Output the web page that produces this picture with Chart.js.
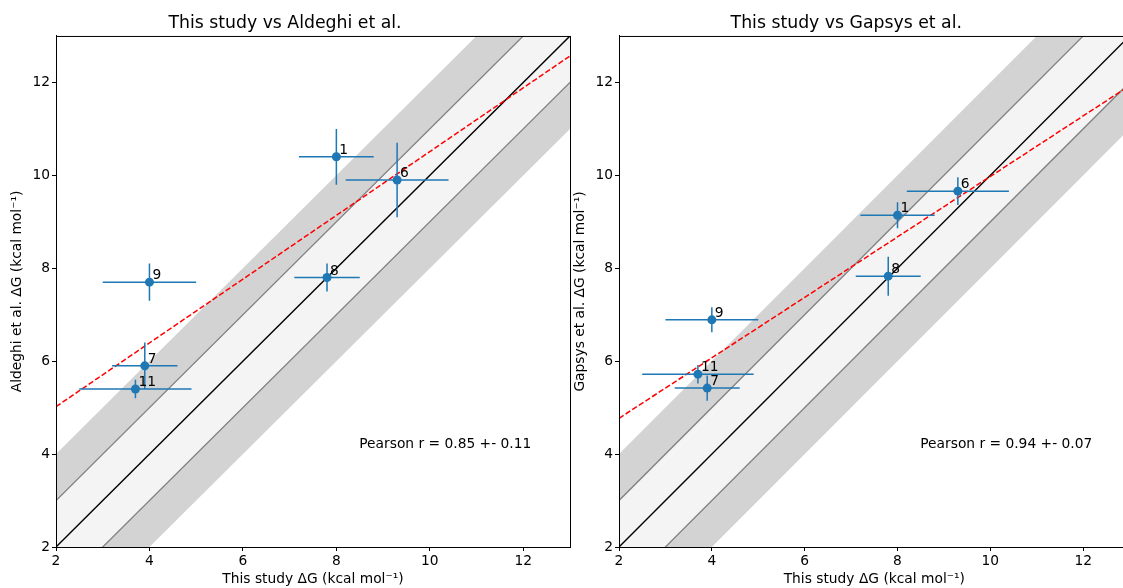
<!DOCTYPE html>
<html>
<head>
<meta charset="utf-8">
<script src="https://cdn.jsdelivr.net/npm/chart.js@4.4.1/dist/chart.umd.min.js"></script>
<style>
    html, body { margin: 0; padding: 0; background: #fff; overflow: hidden; }
    body { width: 1123px; height: 588px; position: relative; }
    .panel { position: absolute; top: 0; width: 580px; height: 588px; }
    #panelLeft { left: 0; }
    #panelRight { left: 563px; }
</style>
</head>
<body>
<div class="panel" id="panelLeft"><canvas id="aldeghiChart"></canvas></div>
<div class="panel" id="panelRight"><canvas id="gapsysChart"></canvas></div>
<script>
// compound ids
const aldeghiLabels = ["1", "6", "8", "9", "7", "11"];
const gapsysLabels = ["6", "1", "8", "9", "11", "7"];

// This study vs Aldeghi et al.
const aldeghiX = [8.0, 9.3, 7.8, 4.0, 3.9, 3.7];
const aldeghiY = [10.4, 9.9, 7.8, 7.7, 5.9, 5.4];
const aldeghiXErr = [0.8, 1.1, 0.7, 1.0, 0.7, 1.2];
const aldeghiYErr = [0.6, 0.8, 0.3, 0.4, 0.5, 0.2];
const aldeghiFit = [[2, 5.02], [13, 12.57]];
const aldeghiPearson = "Pearson r = 0.85 +- 0.11";

// This study vs Gapsys et al.
const gapsysX = [9.3, 8.0, 7.8, 4.0, 3.7, 3.9];
const gapsysY = [9.66, 9.14, 7.83, 6.89, 5.72, 5.42];
const gapsysXErr = [1.1, 0.8, 0.7, 1.0, 1.2, 0.7];
const gapsysYErr = [0.3, 0.28, 0.42, 0.27, 0.2, 0.27];
const gapsysFit = [[2, 4.77], [13, 11.93]];
const gapsysPearson = "Pearson r = 0.94 +- 0.07";

const tickValues = [2, 4, 6, 8, 10, 12];
const axisMin = 2, axisMax = 13;
const diagonalSpan = [0, 15];

const FONT = "'DejaVu Sans', sans-serif";
const TEXT_SIZE = 13.8;
const BLUE = "#1f77b4";

// spines on all four sides
const boxPlugin = {
    id: "box",
    afterDraw(chart) {
        const { ctx, chartArea: a } = chart;
        ctx.save();
        ctx.strokeStyle = "#000";
        ctx.lineWidth = 1;
        ctx.strokeRect(a.left + 0.5, a.top + 0.5, a.right - a.left, a.bottom - a.top);
        ctx.restore();
    }
};

// compound numbers next to points + Pearson text
const annotatePlugin = {
    id: "annotate",
    afterDatasetsDraw(chart, args, opts) {
        const { ctx, chartArea: a, scales } = chart;
        ctx.save();
        ctx.fillStyle = "#000";
        ctx.font = TEXT_SIZE + "px " + FONT;
        ctx.textAlign = "left";
        ctx.textBaseline = "alphabetic";
        opts.labels.forEach((lab, i) => {
            const px = scales.x.getPixelForValue(opts.xs[i]);
            const py = scales.y.getPixelForValue(opts.ys[i]);
            ctx.fillText(lab, px + 3, py - 3);
        });
        ctx.textBaseline = "middle";
        ctx.fillText(opts.pearson, a.left + 0.59 * (a.right - a.left), a.bottom - 0.2 * (a.bottom - a.top));
        ctx.restore();
    }
};

function diagonal(offset) {
    return diagonalSpan.map(x => ({ x: x, y: x + offset }));
}

function errorBarPoints(xs, ys, xe, ye) {
    const pts = [];
    xs.forEach((x, i) => {
        const y = ys[i];
        pts.push({ x: x - xe[i], y: y }, { x: x + xe[i], y: y }, { x: x, y: null });
        pts.push({ x: x, y: y - ye[i] }, { x: x, y: y + ye[i] }, { x: x, y: null });
    });
    return pts;
}

function makeChart(canvasId, cfg) {
    const ctx = document.getElementById(canvasId).getContext("2d");
    const lineDefaults = { pointRadius: 0, pointHoverRadius: 0, tension: 0 };

    const datasets = [
        { ...lineDefaults, data: diagonal(2), borderWidth: 0, backgroundColor: "#d3d3d3", fill: 1, order: 10 },
        { ...lineDefaults, data: diagonal(-2), borderWidth: 0, fill: false, order: 10 },
        { ...lineDefaults, data: diagonal(1), borderColor: "#808080", borderWidth: 1.3, backgroundColor: "#f4f4f4", fill: 3, order: 9 },
        { ...lineDefaults, data: diagonal(-1), borderColor: "#808080", borderWidth: 1.3, fill: false, order: 8 },
        { ...lineDefaults, data: diagonal(0), borderColor: "#000", borderWidth: 1.4, fill: false, order: 7 },
        {
            ...lineDefaults,
            data: cfg.fit.map(p => ({ x: p[0], y: p[1] })),
            borderColor: "#ff0000", borderWidth: 1.5, borderDash: [5.5, 2.4], fill: false, order: 6
        },
        {
            ...lineDefaults,
            data: errorBarPoints(cfg.xs, cfg.ys, cfg.xe, cfg.ye),
            borderColor: BLUE, borderWidth: 1.5, spanGaps: false, fill: false, order: 2
        },
        {
            data: cfg.xs.map((x, i) => ({ x: x, y: cfg.ys[i] })),
            showLine: false, pointRadius: 4.5, pointHoverRadius: 4.5,
            pointBackgroundColor: BLUE, pointBorderColor: BLUE, pointBorderWidth: 0, order: 1
        }
    ];

    const axis = (title, titlePadding) => ({
        type: "linear",
        min: axisMin,
        max: axisMax,
        afterBuildTicks: scale => { scale.ticks = tickValues.map(v => ({ value: v })); },
        grid: { display: true, drawOnChartArea: false, drawTicks: true, tickLength: 4, tickColor: "#000", tickWidth: 1 },
        border: { display: true, color: "#000", width: 1 },
        ticks: { color: "#000", font: { family: FONT, size: TEXT_SIZE }, padding: 2, maxRotation: 0 },
        title: { display: true, text: title, color: "#000", font: { family: FONT, size: TEXT_SIZE }, padding: titlePadding }
    });

    const xAxis = axis("This study ΔG (kcal mol⁻¹)", { top: 0, bottom: 0 });
    xAxis.afterFit = scale => { scale.height = 41; };
    const yAxis = axis(cfg.yTitle, { top: 9, bottom: 0 });
    yAxis.afterFit = scale => { scale.width = 56; };

    return new Chart(ctx, {
        type: "line",
        data: { datasets: datasets },
        options: {
            responsive: true,
            maintainAspectRatio: false,
            animation: false,
            events: [],
            layout: { padding: { left: 0, right: cfg.padRight, top: 0, bottom: 0 } },
            plugins: {
                legend: { display: false },
                tooltip: { enabled: false },
                title: {
                    display: true,
                    text: cfg.title,
                    color: "#000",
                    font: { family: FONT, size: 17.3, weight: "normal" },
                    padding: { top: 13, bottom: 2.2 }
                },
                annotate: { labels: cfg.labels, xs: cfg.xs, ys: cfg.ys, pearson: cfg.pearson }
            },
            scales: { x: xAxis, y: yAxis }
        },
        plugins: [annotatePlugin, boxPlugin]
    });
}

makeChart("aldeghiChart", {
    title: "This study vs Aldeghi et al.",
    yTitle: "Aldeghi et al. ΔG (kcal mol⁻¹)",
    xs: aldeghiX, ys: aldeghiY, xe: aldeghiXErr, ye: aldeghiYErr,
    labels: aldeghiLabels, fit: aldeghiFit, pearson: aldeghiPearson,
    padRight: 10
});

makeChart("gapsysChart", {
    title: "This study vs Gapsys et al.",
    yTitle: "Gapsys et al. ΔG (kcal mol⁻¹)",
    xs: gapsysX, ys: gapsysY, xe: gapsysXErr, ye: gapsysYErr,
    labels: gapsysLabels, fit: gapsysFit, pearson: gapsysPearson,
    padRight: 13.4
});
</script>
</body>
</html>
